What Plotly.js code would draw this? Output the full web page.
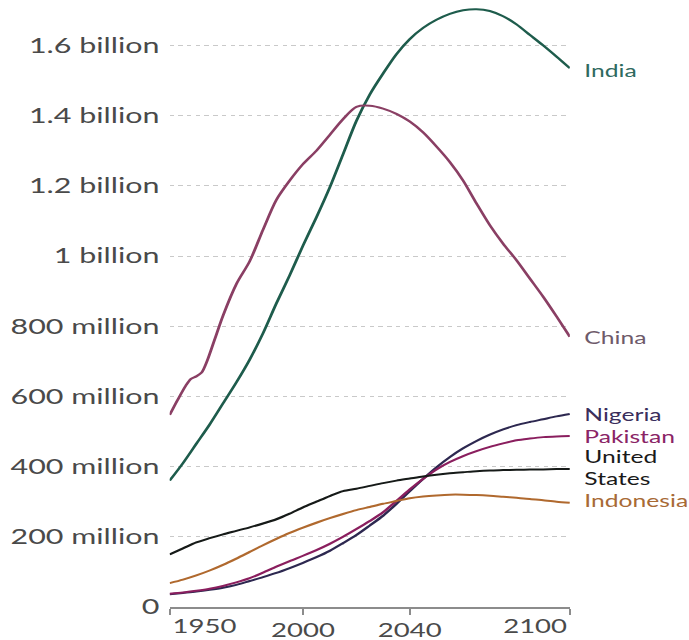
<!DOCTYPE html>
<html>
<head>
<meta charset="utf-8">
<script src="https://cdn.plot.ly/plotly-3.0.1.min.js"></script>
<style>
  html, body { margin: 0; padding: 0; background: #ffffff; }
  #wrap { width: 689px; height: 640px; overflow: hidden; }
  #plot { width: 475px; height: 640px; transform: scaleX(1.45); transform-origin: 0 0; }
</style>
</head>
<body>
<div id="wrap"><div id="plot"></div></div>
<script>
// ---- data (population, in billions) ----
const years = [1950,1955,1960,1965,1970,1975,1980,1985,1990,1995,2000,2005,2010,2015,2020,2025,2030,2035,2040,2045,2050,2055,2060,2065,2070,2075,2080,2085,2090,2095,2100];

const india = [0.360,0.410,0.465,0.520,0.580,0.640,0.705,0.780,0.865,0.945,1.030,1.110,1.195,1.290,1.385,1.460,1.520,1.575,1.618,1.650,1.673,1.690,1.700,1.703,1.698,1.683,1.660,1.630,1.600,1.568,1.535];

const chinaYears = [1950,1953,1956,1958,1960,1962,1964,1967,1970,1975,1980,1985,1990,1995,2000,2005,2010,2015,2020,2025,2030,2035,2040,2045,2050,2055,2060,2065,2070,2075,2080,2085,2090,2095,2100];
const china = [0.547,0.590,0.630,0.650,0.657,0.668,0.700,0.765,0.830,0.920,0.985,1.075,1.160,1.215,1.262,1.300,1.345,1.390,1.425,1.428,1.420,1.405,1.383,1.352,1.312,1.268,1.215,1.150,1.088,1.035,0.988,0.936,0.884,0.828,0.770];

const nigeria = [0.036,0.040,0.044,0.049,0.055,0.063,0.074,0.085,0.097,0.111,0.126,0.142,0.160,0.182,0.205,0.232,0.260,0.294,0.330,0.365,0.398,0.427,0.452,0.473,0.491,0.506,0.518,0.527,0.535,0.543,0.550];

const pakistan = [0.038,0.041,0.046,0.052,0.060,0.070,0.082,0.098,0.115,0.131,0.146,0.162,0.180,0.200,0.222,0.245,0.270,0.302,0.335,0.365,0.392,0.413,0.430,0.444,0.456,0.466,0.475,0.480,0.484,0.486,0.487];

const unitedStates = [0.150,0.167,0.184,0.196,0.207,0.217,0.227,0.238,0.250,0.266,0.284,0.300,0.316,0.330,0.337,0.345,0.353,0.360,0.366,0.372,0.377,0.381,0.384,0.387,0.389,0.390,0.391,0.392,0.392,0.393,0.393];

const indonesia = [0.068,0.078,0.090,0.104,0.120,0.138,0.157,0.176,0.194,0.211,0.226,0.240,0.253,0.265,0.276,0.285,0.294,0.302,0.310,0.315,0.318,0.320,0.320,0.319,0.317,0.314,0.311,0.308,0.304,0.300,0.297];

const seriesNames = ['India','China','Nigeria','Pakistan','United States','Indonesia'];
const seriesLabels = ['India','China','Nigeria','Pakistan','United<br>States','Indonesia'];

const yTickVals = [0, 0.2, 0.4, 0.6, 0.8, 1.0, 1.2, 1.4, 1.6];
const yTickLabels = ['0','200 million','400 million','600 million','800 million','1 billion','1.2 billion','1.4 billion','1.6 billion'];

const xTickVals = [1950, 2000, 2040, 2100];
const xTickLabels = ['1950','2000','2040','2100'];

// ---- styles ----
const lineColors = ['#1e5c4c','#8a3f64','#2d2850','#8a1e5e','#161a18','#b0692e'];
const labelColors = ['#2f6a5f','#6e5a6a','#3a2e5c','#8a2466','#1a1a1a','#a86a36'];
const labelShift = [-2, -1, -1, 0, 2, 2];
const FONT = 'Lato, "Open Sans", sans-serif';

const xs = [years, chinaYears, years, years, years, years];
const ys = [india, china, nigeria, pakistan, unitedStates, indonesia];

const traces = seriesNames.map((n, i) => ({
  type: 'scatter', mode: 'lines', name: n,
  x: xs[i], y: ys[i],
  line: { color: lineColors[i], width: 2, shape: 'spline', smoothing: 0.8 },
  hoverinfo: 'skip'
}));

const annotations = seriesNames.map((n, i) => ({
  x: xs[i][xs[i].length - 1], y: ys[i][ys[i].length - 1],
  xref: 'x', yref: 'y', xanchor: 'left', yanchor: 'middle', align: 'left',
  xshift: 8, yshift: labelShift[i],
  text: seriesLabels[i], showarrow: false,
  font: { family: FONT, size: 17, color: labelColors[i] }
}));

// first and last x tick labels sit inside the tick (left/right aligned)
[0, xTickVals.length - 1].forEach((k, j) => {
  annotations.push({
    x: xTickVals[k], y: 0, xref: 'x', yref: 'paper',
    xanchor: j === 0 ? 'left' : 'right', yanchor: 'top',
    yshift: -5, text: xTickLabels[k], showarrow: false,
    font: { family: FONT, size: 19, color: '#4a4a4a' }
  });
});

const layout = {
  width: 475, height: 640,
  margin: { l: 117, r: 82, t: 3, b: 33 },
  paper_bgcolor: '#ffffff', plot_bgcolor: '#ffffff',
  showlegend: false,
  font: { family: FONT, color: '#4a4a4a' },
  xaxis: {
    range: [1950, 2100], fixedrange: true,
    tickmode: 'array', tickvals: xTickVals,
    ticktext: xTickLabels.map((t, i) => (i === 0 || i === xTickLabels.length - 1) ? '' : t),
    showgrid: false, zeroline: false,
    showline: true, linecolor: '#8c8c8c', linewidth: 1.5,
    ticks: 'outside', ticklen: 6, tickwidth: 1.5, tickcolor: '#8c8c8c',
    ticklabelstandoff: 0,
    tickfont: { family: FONT, size: 19, color: '#4a4a4a' }
  },
  yaxis: {
    range: [0, 1.7208], fixedrange: true,
    tickmode: 'array', tickvals: yTickVals, ticktext: yTickLabels,
    showgrid: true, gridcolor: '#c9c9c9', gridwidth: 1, griddash: 'dot',
    zeroline: false, showline: false, ticks: '',
    ticklabelstandoff: 6,
    tickfont: { family: FONT, size: 21, color: '#4a4a4a' }
  },
  annotations: annotations
};

Plotly.newPlot('plot', traces, layout, { displayModeBar: false, staticPlot: true });
</script>
</body>
</html>
